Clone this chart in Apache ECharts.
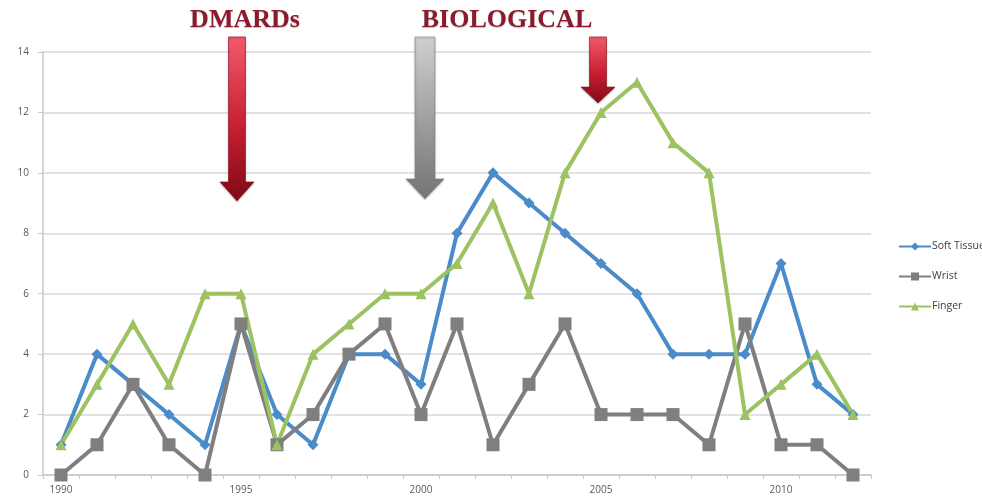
<!DOCTYPE html>
<html>
<head>
<meta charset="utf-8">
<script src="https://cdn.jsdelivr.net/npm/echarts@6/dist/echarts.min.js"></script>
<style>
  html, body { margin: 0; padding: 0; background: #ffffff; }
  #chart { width: 982px; height: 499px; }
</style>
</head>
<body>
<div id="chart"></div>
<script>
// Yearly case counts by involvement site
const years = ['1990','1991','1992','1993','1994','1995','1996','1997','1998','1999','2000',
               '2001','2002','2003','2004','2005','2006','2007','2008','2009','2010','2011','2012'];
const softTissue = [1, 4, 3, 2, 1, 5, 2, 1, 4, 4, 3, 8, 10, 9, 8, 7, 6, 4, 4, 4, 7, 3, 2];
const wrist      = [0, 1, 3, 1, 0, 5, 1, 2, 4, 5, 2, 5, 1, 3, 5, 2, 2, 2, 1, 5, 1, 1, 0];
const finger     = [1, 3, 5, 3, 6, 6, 1, 4, 5, 6, 6, 7, 9, 6, 10, 12, 13, 11, 10, 2, 3, 4, 2];
const yTicks = { min: 0, max: 14, step: 2 };

// Therapy-era markers: year they point at, tip value, head-base value, palette
const arrowYears = ['1995', '2000', '2005'];
const arrowTips  = [9.07, 9.14, 12.31];
const arrowHeads = [9.7, 9.8, 12.84];
const arrowKinds = ['red', 'grey', 'red'];
const eraLabels  = ['DMARDs', 'BIOLOGICAL'];
const eraLabelYears = ['1995', '2002'];

const chart = echarts.init(document.getElementById('chart'));

const seriesStyle = (name, data, color, symbol, size) => ({
  name, type: 'line', data,
  symbol, symbolSize: size,
  lineStyle: { color, width: 4 },
  itemStyle: { color },
  emphasis: { disabled: true },
  z: 3
});

chart.setOption({
  animation: false,
  backgroundColor: '#ffffff',
  grid: { left: 43, right: 111, top: 52, bottom: 24 },
  legend: {
    orient: 'vertical', left: 893, top: 236,
    itemWidth: 32, itemHeight: 10, itemGap: 19,
    textStyle: { fontFamily: 'Open Sans', fontSize: 10.5, color: '#404040', padding: [0, 0, 0, -4] },
    data: ['Soft Tissue', 'Wrist', 'Finger']
  },
  xAxis: {
    type: 'category', data: years, boundaryGap: true,
    axisLine: { lineStyle: { color: '#c8c8c8', width: 1.5 } },
    axisTick: { show: true, interval: 0, length: 4, lineStyle: { color: '#c8c8c8' } },
    axisLabel: { interval: 4, color: '#595959', fontSize: 10, fontFamily: 'Open Sans', margin: 10 },
    splitLine: { show: false }
  },
  yAxis: {
    type: 'value', min: yTicks.min, max: yTicks.max, interval: yTicks.step,
    axisLine: { show: true, lineStyle: { color: '#c8c8c8', width: 1.5 } },
    axisTick: { show: true, length: 5, lineStyle: { color: '#c8c8c8' } },
    axisLabel: { color: '#595959', fontSize: 10, fontFamily: 'Open Sans', margin: 14 },
    splitLine: { lineStyle: { color: '#d9d9d9', width: 1.5 } }
  },
  series: [
    seriesStyle('Soft Tissue', softTissue, '#4a8bc9', 'diamond', 11),
    seriesStyle('Wrist', wrist, '#7f7f7f', 'rect', 13),
    seriesStyle('Finger', finger, '#9cc262', 'triangle', 11)
  ]
});

// Overlay arrows and era labels, positioned through the axes
function placeOverlay() {
  const px = (yr, v) => chart.convertToPixel({ xAxisIndex: 0, yAxisIndex: 0 }, [yr, v]);
  const topY = px(years[0], 14.5)[1];
  const elements = [];
  const offsets = [-4, 4, -3];
  arrowYears.forEach((yr, i) => {
    const cx = px(yr, 0)[0] + offsets[i];
    const tipY = px(yr, arrowTips[i])[1];
    const headY = px(yr, arrowHeads[i])[1];
    const shaftHalf = arrowKinds[i] === 'red' ? 8.5 : 10;
    const headHalf = arrowKinds[i] === 'red' ? 17 : 19;
    const fill = arrowKinds[i] === 'red'
      ? new echarts.graphic.LinearGradient(0, 0, 0, 1, [
          { offset: 0, color: '#f25a6c' }, { offset: 0.55, color: '#c81e32' }, { offset: 1, color: '#7e0a16' }])
      : new echarts.graphic.LinearGradient(0, 0, 0, 1, [
          { offset: 0, color: '#cfcfcf' }, { offset: 0.55, color: '#9c9c9c' }, { offset: 1, color: '#747474' }]);
    elements.push({
      type: 'polygon', z: 10,
      shape: { points: [
        [cx - shaftHalf, topY], [cx + shaftHalf, topY], [cx + shaftHalf, headY],
        [cx + headHalf, headY], [cx, tipY], [cx - headHalf, headY], [cx - shaftHalf, headY]
      ] },
      style: { fill, stroke: arrowKinds[i] === 'red' ? '#8e1424' : '#8a8a8a', lineWidth: 0.6,
               shadowBlur: 2, shadowColor: 'rgba(0,0,0,0.25)', shadowOffsetY: 1 }
    });
  });
  const labelOffsets = [4, 14];
  eraLabels.forEach((txt, i) => {
    const x = px(eraLabelYears[i], 0)[0] + labelOffsets[i];
    elements.push({
      type: 'text', z: 10,
      x, y: 20,
      style: { text: txt, fill: '#8b1a2c', font: 'bold 26px "Liberation Serif", "DejaVu Serif", serif',
               align: 'center', verticalAlign: 'middle',
               textShadowColor: 'rgba(0,0,0,0.25)', textShadowBlur: 1, textShadowOffsetY: 1 }
    });
  });
  chart.setOption({ graphic: { elements } });
}
placeOverlay();
</script>
</body>
</html>
